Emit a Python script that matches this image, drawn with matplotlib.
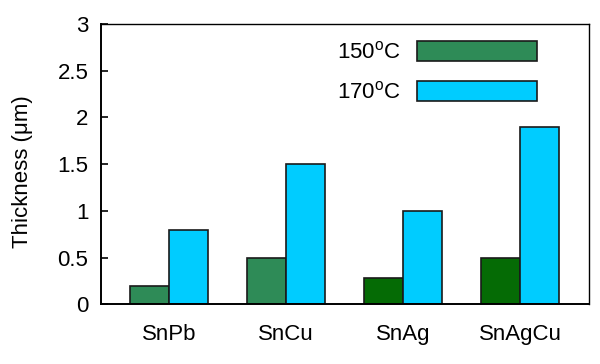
import matplotlib
matplotlib.use("Agg")
import matplotlib.pyplot as plt
import numpy as np
from matplotlib.ticker import FuncFormatter
from matplotlib.patches import Patch

plt.rcParams['font.family'] = ['Liberation Sans', 'DejaVu Sans']
plt.rcParams['mathtext.fontset'] = 'custom'
plt.rcParams['mathtext.rm'] = 'Liberation Sans'

categories = ["SnPb", "SnCu", "SnAg", "SnAgCu"]
t150 = [0.2, 0.5, 0.28, 0.5]
t170 = [0.8, 1.5, 1.0, 1.9]
labels = ["150$^{\\mathrm{o}}$C", "170$^{\\mathrm{o}}$C"]
green_colors = ["#2e8b57", "#2e8b57", "#056b05", "#056b05"]
cyan = "#00ccff"
yticks = [0, 0.5, 1, 1.5, 2, 2.5, 3]

FS = 16
fig = plt.figure(figsize=(6, 3.64), dpi=100)
ax = fig.add_axes([101/600, 1-304.3/364, 488/600, 280.3/364])

x = np.arange(len(categories))
w = 0.333
ax.bar(x - w/2, t150, w, color=green_colors, edgecolor="#1a1a1a", linewidth=1.2, label=labels[0])
ax.bar(x + w/2, t170, w, color=cyan, edgecolor="#1a1a1a", linewidth=1.2, label=labels[1])

ax.set_xlim(-0.58, 3.59)
ax.set_ylim(0, 3)
ax.set_yticks(yticks)
ax.yaxis.set_major_formatter(FuncFormatter(lambda v, p: f"{v:g}"))
ax.set_xticks(x)
ax.set_xticklabels(categories)
ax.tick_params(axis='x', length=0, pad=14, labelsize=FS)
ax.tick_params(axis='y', direction='in', length=5, width=1.2, pad=9, labelsize=FS)
for s in ax.spines.values():
    s.set_linewidth(1.4)
    s.set_color("black")
ax.spines['top'].set_linewidth(1.0)
ax.spines['right'].set_linewidth(1.0)

ax.set_ylabel("Thickness (μm)", fontsize=FS)
ax.yaxis.set_label_coords((33 - 101) / 488, (304.3 - 172) / 280.3)

h1 = Patch(facecolor="#2e8b57", edgecolor="#1a1a1a", linewidth=1.2)
h2 = Patch(facecolor=cyan, edgecolor="#1a1a1a", linewidth=1.2)
ax.legend([h1, h2], labels, loc='upper right', bbox_to_anchor=((537-101)/488, (304.3-41)/280.3),
          frameon=False, markerfirst=False, fontsize=FS, handlelength=5.4, handleheight=1.0,
          labelspacing=0.8, handletextpad=0.75, borderpad=0, borderaxespad=0)

fig.savefig("out.png", dpi=100)
